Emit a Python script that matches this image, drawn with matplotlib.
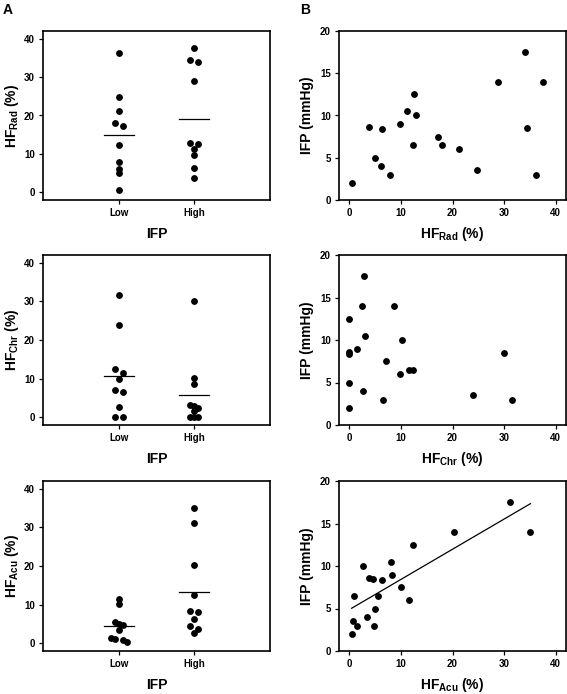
import numpy as np
import matplotlib
matplotlib.use('Agg')
import matplotlib.pyplot as plt

plt.rcParams['font.family'] = ['Liberation Sans', 'DejaVu Sans']
plt.rcParams['mathtext.fontset'] = 'custom'
plt.rcParams['mathtext.rm'] = 'Liberation Sans'
plt.rcParams['mathtext.bf'] = 'Liberation Sans:bold'

# one entry per tumour
ifp = [2.0, 8.6, 5.0, 4.0, 3.0, 8.4, 9.0, 10.5, 12.5, 10.0,
       6.5, 7.5, 6.5, 6.0, 3.5, 14.0, 17.5, 8.5, 3.0, 14.0]
hf_rad = [0.5, 3.8, 5.0, 6.2, 7.9, 6.4, 9.8, 11.2, 12.5, 12.9,
          12.4, 17.2, 18.0, 21.3, 24.8, 28.9, 34.0, 34.5, 36.2, 37.6]
hf_chr = [0.0, 0.0, 0.0, 2.7, 6.5, 0.0, 1.5, 3.1, 0.0, 10.2,
          11.5, 7.1, 12.4, 9.8, 24.0, 2.5, 2.9, 30.0, 31.6, 8.7]
hf_acu = [0.45, 3.8, 4.9, 3.4, 1.4, 6.4, 8.3, 8.1, 12.4, 2.7,
          1.0, 10.1, 5.5, 11.5, 0.8, 20.2, 31.1, 4.5, 4.7, 35.1]

groups = ['Low', 'High']
ifp_split = 8.0  # median split of IFP
hf_names = ['Rad', 'Chr', 'Acu']


def Offsets(vals, thr=1.0, step=0.053):
    # spread points that would overlap, highest value on the left
    vals = np.asarray(vals)
    order = np.argsort(-vals)
    off = np.zeros(len(vals))
    clusters = [[order[0]]]
    for i in order[1:]:
        if vals[clusters[-1][-1]] - vals[i] < thr:
            clusters[-1].append(i)
        else:
            clusters.append([i])
    for c in clusters:
        n = len(c)
        if n % 2:
            ks = np.arange(n) - (n - 1) / 2
        else:
            ks = np.concatenate([np.arange(-n // 2, 0), np.arange(1, n // 2 + 1)])
        for j, idx in enumerate(c):
            off[idx] = ks[j] * step
    return off


fig = plt.figure(figsize=(5.67, 6.94), dpi=100)
W, H = 567.0, 694.0
rows = [(31, 200), (255, 425), (481, 651)]

ifp_a = np.array(ifp)
for r, (hf, name) in enumerate(zip([hf_rad, hf_chr, hf_acu], hf_names)):
    top, bot = rows[r]
    hf = np.array(hf)
    sub = r'HF$_{\mathbf{' + name + r'}}$ (%)'

    # left: dot plot by IFP group
    ax = fig.add_axes([43 / W, 1 - bot / H, 227 / W, (bot - top) / H])
    for g, mask in enumerate([ifp_a < ifp_split, ifp_a >= ifp_split]):
        v = hf[mask]
        x = g + 1 + Offsets(v)
        ax.plot(x, v, 'o', color='black', ms=3.9, mec='black')
        ax.plot([g + 1 - 0.2, g + 1 + 0.2], [v.mean(), v.mean()], color='black', lw=0.9)
    ax.set_xlim(0, 3)
    ax.set_ylim(-2, 42)
    ax.set_xticks([1, 2])
    ax.set_xticklabels(groups)
    ax.set_yticks([0, 10, 20, 30, 40])
    ax.set_xlabel('IFP', fontsize=10, fontweight='bold', labelpad=6)
    ax.set_ylabel(sub, fontsize=10, fontweight='bold', labelpad=2)
    ax.tick_params(direction='out', length=3, width=0.9, labelsize=7, pad=3)
    for t in ax.get_xticklabels() + ax.get_yticklabels():
        t.set_fontweight('bold')
    for s in ax.spines.values():
        s.set_linewidth(1.2)

    # right: IFP against HF
    ax2 = fig.add_axes([339 / W, 1 - bot / H, 227 / W, (bot - top) / H])
    ax2.plot(hf, ifp_a, 'o', color='black', ms=3.9)
    if name == 'Acu':
        k, b = np.polyfit(hf, ifp_a, 1)
        xx = np.array([hf.min(), hf.max()])
        ax2.plot(xx, k * xx + b, color='black', lw=0.9)
    ax2.set_xlim(-2, 42)
    ax2.set_ylim(0, 20)
    ax2.set_xticks([0, 10, 20, 30, 40])
    ax2.set_yticks([0, 5, 10, 15, 20])
    ax2.set_xlabel(sub, fontsize=10, fontweight='bold', labelpad=5)
    ax2.set_ylabel('IFP (mmHg)', fontsize=10, fontweight='bold', labelpad=4)
    ax2.tick_params(direction='out', length=3, width=0.9, labelsize=7, pad=3)
    for t in ax2.get_xticklabels() + ax2.get_yticklabels():
        t.set_fontweight('bold')
    for s in ax2.spines.values():
        s.set_linewidth(1.2)

fig.text(3 / W, 1 - 3 / H, 'A', fontsize=10, fontweight='bold', va='top', ha='left')
fig.text(300 / W, 1 - 3 / H, 'B', fontsize=10, fontweight='bold', va='top', ha='left')

fig.savefig('out.png', dpi=100)
